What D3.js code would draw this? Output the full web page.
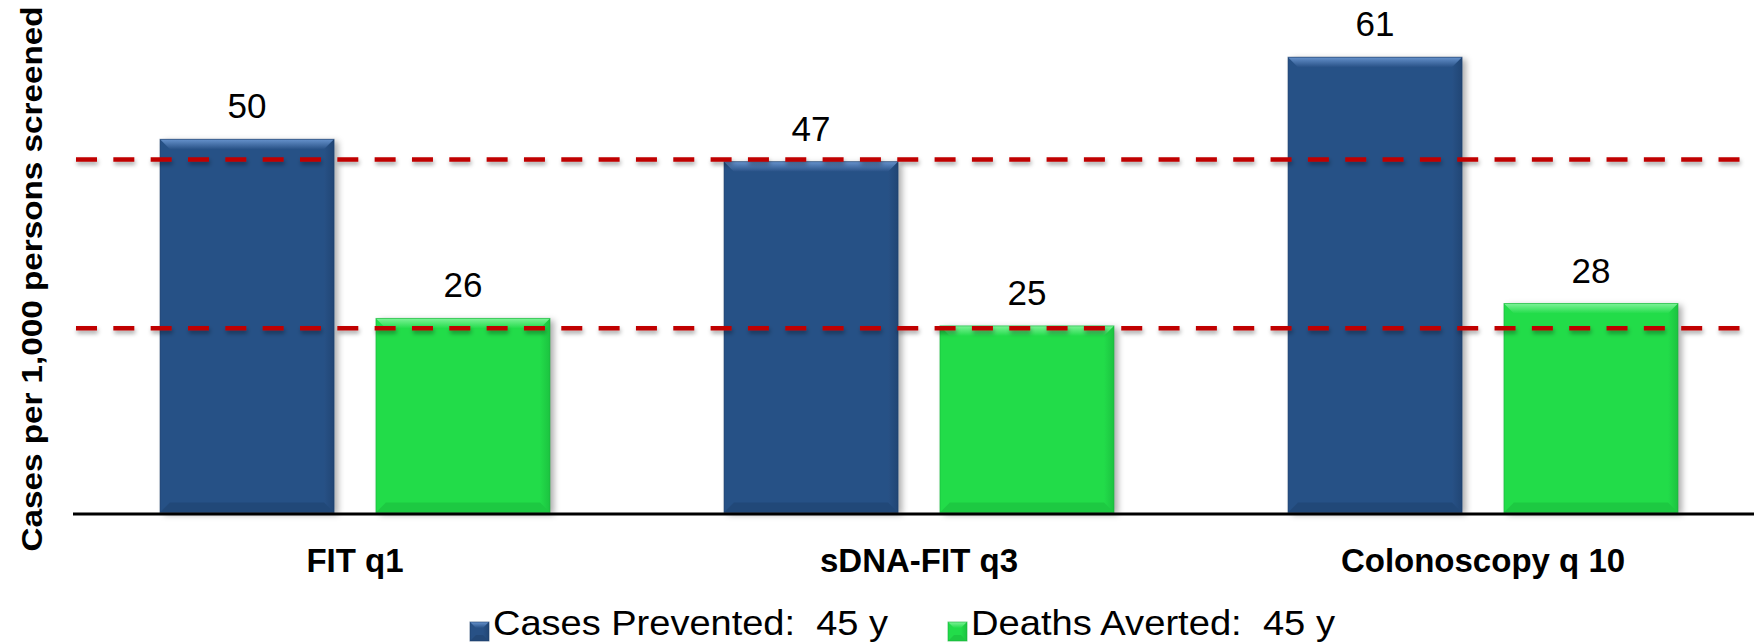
<!DOCTYPE html>
<html>
<head>
<meta charset="utf-8">
<script src="https://cdn.jsdelivr.net/npm/d3@7"></script>
<style>
  html, body { margin: 0; padding: 0; background: #fff; }
  svg { display: block; }
  text { font-family: "Liberation Sans", Arial, sans-serif; }
</style>
</head>
<body>
<svg id="chart" width="1754" height="642"></svg>
<script>
// Screening strategies and outcomes per 1,000 persons screened
const categories = ["FIT q1", "sDNA-FIT q3", "Colonoscopy q 10"];
const seriesNames = ["Cases Prevented:  45 y", "Deaths Averted:  45 y"];
const casesPrevented = [50, 47, 61];
const deathsAverted = [26, 25, 28];
const referenceLines = [47.3, 24.7];
const yLabel = "Cases per 1,000 persons screened";

const W = 1754, H = 642;
const svg = d3.select("#chart");

const palette = [
  { base: "#285186", light: "#6692CC", dark: "#1D3E69" },
  { base: "#22DC4A", light: "#7DF297", dark: "#18B23A" }
];

const defs = svg.append("defs");
const shadow = defs.append("filter").attr("id", "barShadow")
  .attr("x", "-10%").attr("y", "-10%").attr("width", "130%").attr("height", "130%");
shadow.append("feDropShadow").attr("dx", 4).attr("dy", 2).attr("stdDeviation", 3)
  .attr("flood-color", "#000").attr("flood-opacity", 0.32);
const lineShadow = defs.append("filter").attr("id", "lineShadow")
  .attr("filterUnits", "userSpaceOnUse")
  .attr("x", 0).attr("y", 0).attr("width", W).attr("height", H);
lineShadow.append("feDropShadow").attr("dx", 1).attr("dy", 3).attr("stdDeviation", 2)
  .attr("flood-color", "#000").attr("flood-opacity", 0.35);

palette.forEach((p, i) => {
  const g = defs.append("linearGradient").attr("id", "topBevel" + i)
    .attr("x1", 0).attr("y1", 0).attr("x2", 0).attr("y2", 1);
  g.append("stop").attr("offset", "0%").attr("stop-color", p.light);
  g.append("stop").attr("offset", "100%").attr("stop-color", p.base);
  const r = defs.append("linearGradient").attr("id", "rightBevel" + i)
    .attr("x1", 0).attr("y1", 0).attr("x2", 1).attr("y2", 0);
  r.append("stop").attr("offset", "0%").attr("stop-color", p.base);
  r.append("stop").attr("offset", "100%").attr("stop-color", p.dark);
});

// Scales
const baseY = 512.5;
const y = d3.scaleLinear().domain([0, 68]).range([baseY, baseY - 68 * 7.464]);
const x0 = d3.scaleBand().domain(categories).range([73, 1765]).paddingInner(0).paddingOuter(0);
const x1 = d3.scaleBand().domain(seriesNames).range([0, x0.bandwidth()])
  .paddingInner(0.194).paddingOuter(0.403);

const rows = categories.map((c, i) => ({
  category: c,
  values: [casesPrevented[i], deathsAverted[i]]
}));

// Beveled bar drawn from rectangle geometry
function bevelBar(g, bx, by, bw, bh, idx, bevel, withShadow) {
  const p = palette[idx];
  const base = g.append("rect").attr("x", bx).attr("y", by).attr("width", bw).attr("height", bh)
    .attr("fill", p.base);
  if (withShadow) base.attr("filter", "url(#barShadow)");
  const b = Math.min(bevel, bh / 2, bw / 2);
  const poly = pts => pts.map(q => q.join(",")).join(" ");
  g.append("polygon").attr("points", poly([[bx, by], [bx + bw, by], [bx + bw - b, by + b], [bx + b, by + b]]))
    .attr("fill", `url(#topBevel${idx})`);
  g.append("polygon").attr("points", poly([[bx + bw, by], [bx + bw, by + bh], [bx + bw - b, by + bh - b], [bx + bw - b, by + b]]))
    .attr("fill", `url(#rightBevel${idx})`).attr("opacity", 0.6);
  g.append("polygon").attr("points", poly([[bx, by + bh], [bx + b, by + bh - b], [bx + bw - b, by + bh - b], [bx + bw, by + bh]]))
    .attr("fill", p.dark).attr("opacity", 0.45);
  g.append("rect").attr("x", bx).attr("y", by).attr("width", bw).attr("height", bh)
    .attr("fill", "none").attr("stroke", p.dark).attr("stroke-width", 1).attr("opacity", 0.6);
}

// Bars
const groups = svg.append("g").selectAll("g.grp").data(rows).join("g")
  .attr("class", "grp")
  .attr("transform", d => `translate(${x0(d.category)},0)`);

groups.each(function (d) {
  const g = d3.select(this);
  d.values.forEach((v, i) => {
    const bx = x1(seriesNames[i]);
    bevelBar(g.append("g"), bx, y(v), x1.bandwidth(), y(0) - y(v), i, 10, true);
    g.append("text")
      .attr("x", bx + x1.bandwidth() / 2)
      .attr("y", y(v) - 21)
      .attr("text-anchor", "middle")
      .attr("font-size", 35)
      .attr("fill", "#000")
      .text(v);
  });
});

// Dashed reference lines
svg.append("g").selectAll("line.ref").data(referenceLines).join("line")
  .attr("class", "ref")
  .attr("x1", 76).attr("x2", W)
  .attr("y1", d => y(d)).attr("y2", d => y(d))
  .attr("stroke", "#C00000").attr("stroke-width", 4.5)
  .attr("stroke-dasharray", "21 16.33")
  .attr("filter", "url(#lineShadow)");

// Category axis
const xAxis = svg.append("g").attr("transform", `translate(0,${y(0) + 1.5})`)
  .call(d3.axisBottom(x0).tickSize(0).tickPadding(0));
xAxis.select(".domain").attr("d", `M73,0H${W}`).attr("stroke", "#000").attr("stroke-width", 3);
xAxis.selectAll(".tick text")
  .attr("y", 58).attr("dy", null)
  .attr("font-family", "'Liberation Sans', Arial, sans-serif")
  .attr("font-size", 33).attr("font-weight", "bold").attr("fill", "#000");

// Y-axis title
svg.append("text")
  .attr("transform", `translate(42,279) rotate(-90)`)
  .attr("text-anchor", "middle")
  .attr("font-size", 29).attr("font-weight", "bold")
  .attr("textLength", 545).attr("lengthAdjust", "spacingAndGlyphs")
  .text(yLabel);

// Legend
const legendX = [470, 948];
const legendTextWidth = [395, 364];
const legend = svg.append("g").selectAll("g.leg").data(seriesNames).join("g")
  .attr("class", "leg")
  .attr("transform", (d, i) => `translate(${legendX[i]},0)`);
legend.each(function (d, i) {
  const g = d3.select(this);
  bevelBar(g, 0, 622, 19, 19, i, 6, false);
  g.append("text").attr("x", 23).attr("y", 635).attr("font-size", 35)
    .attr("xml:space", "preserve").style("white-space", "pre")
    .attr("textLength", legendTextWidth[i]).attr("lengthAdjust", "spacingAndGlyphs")
    .text(d);
});
</script>
</body>
</html>
